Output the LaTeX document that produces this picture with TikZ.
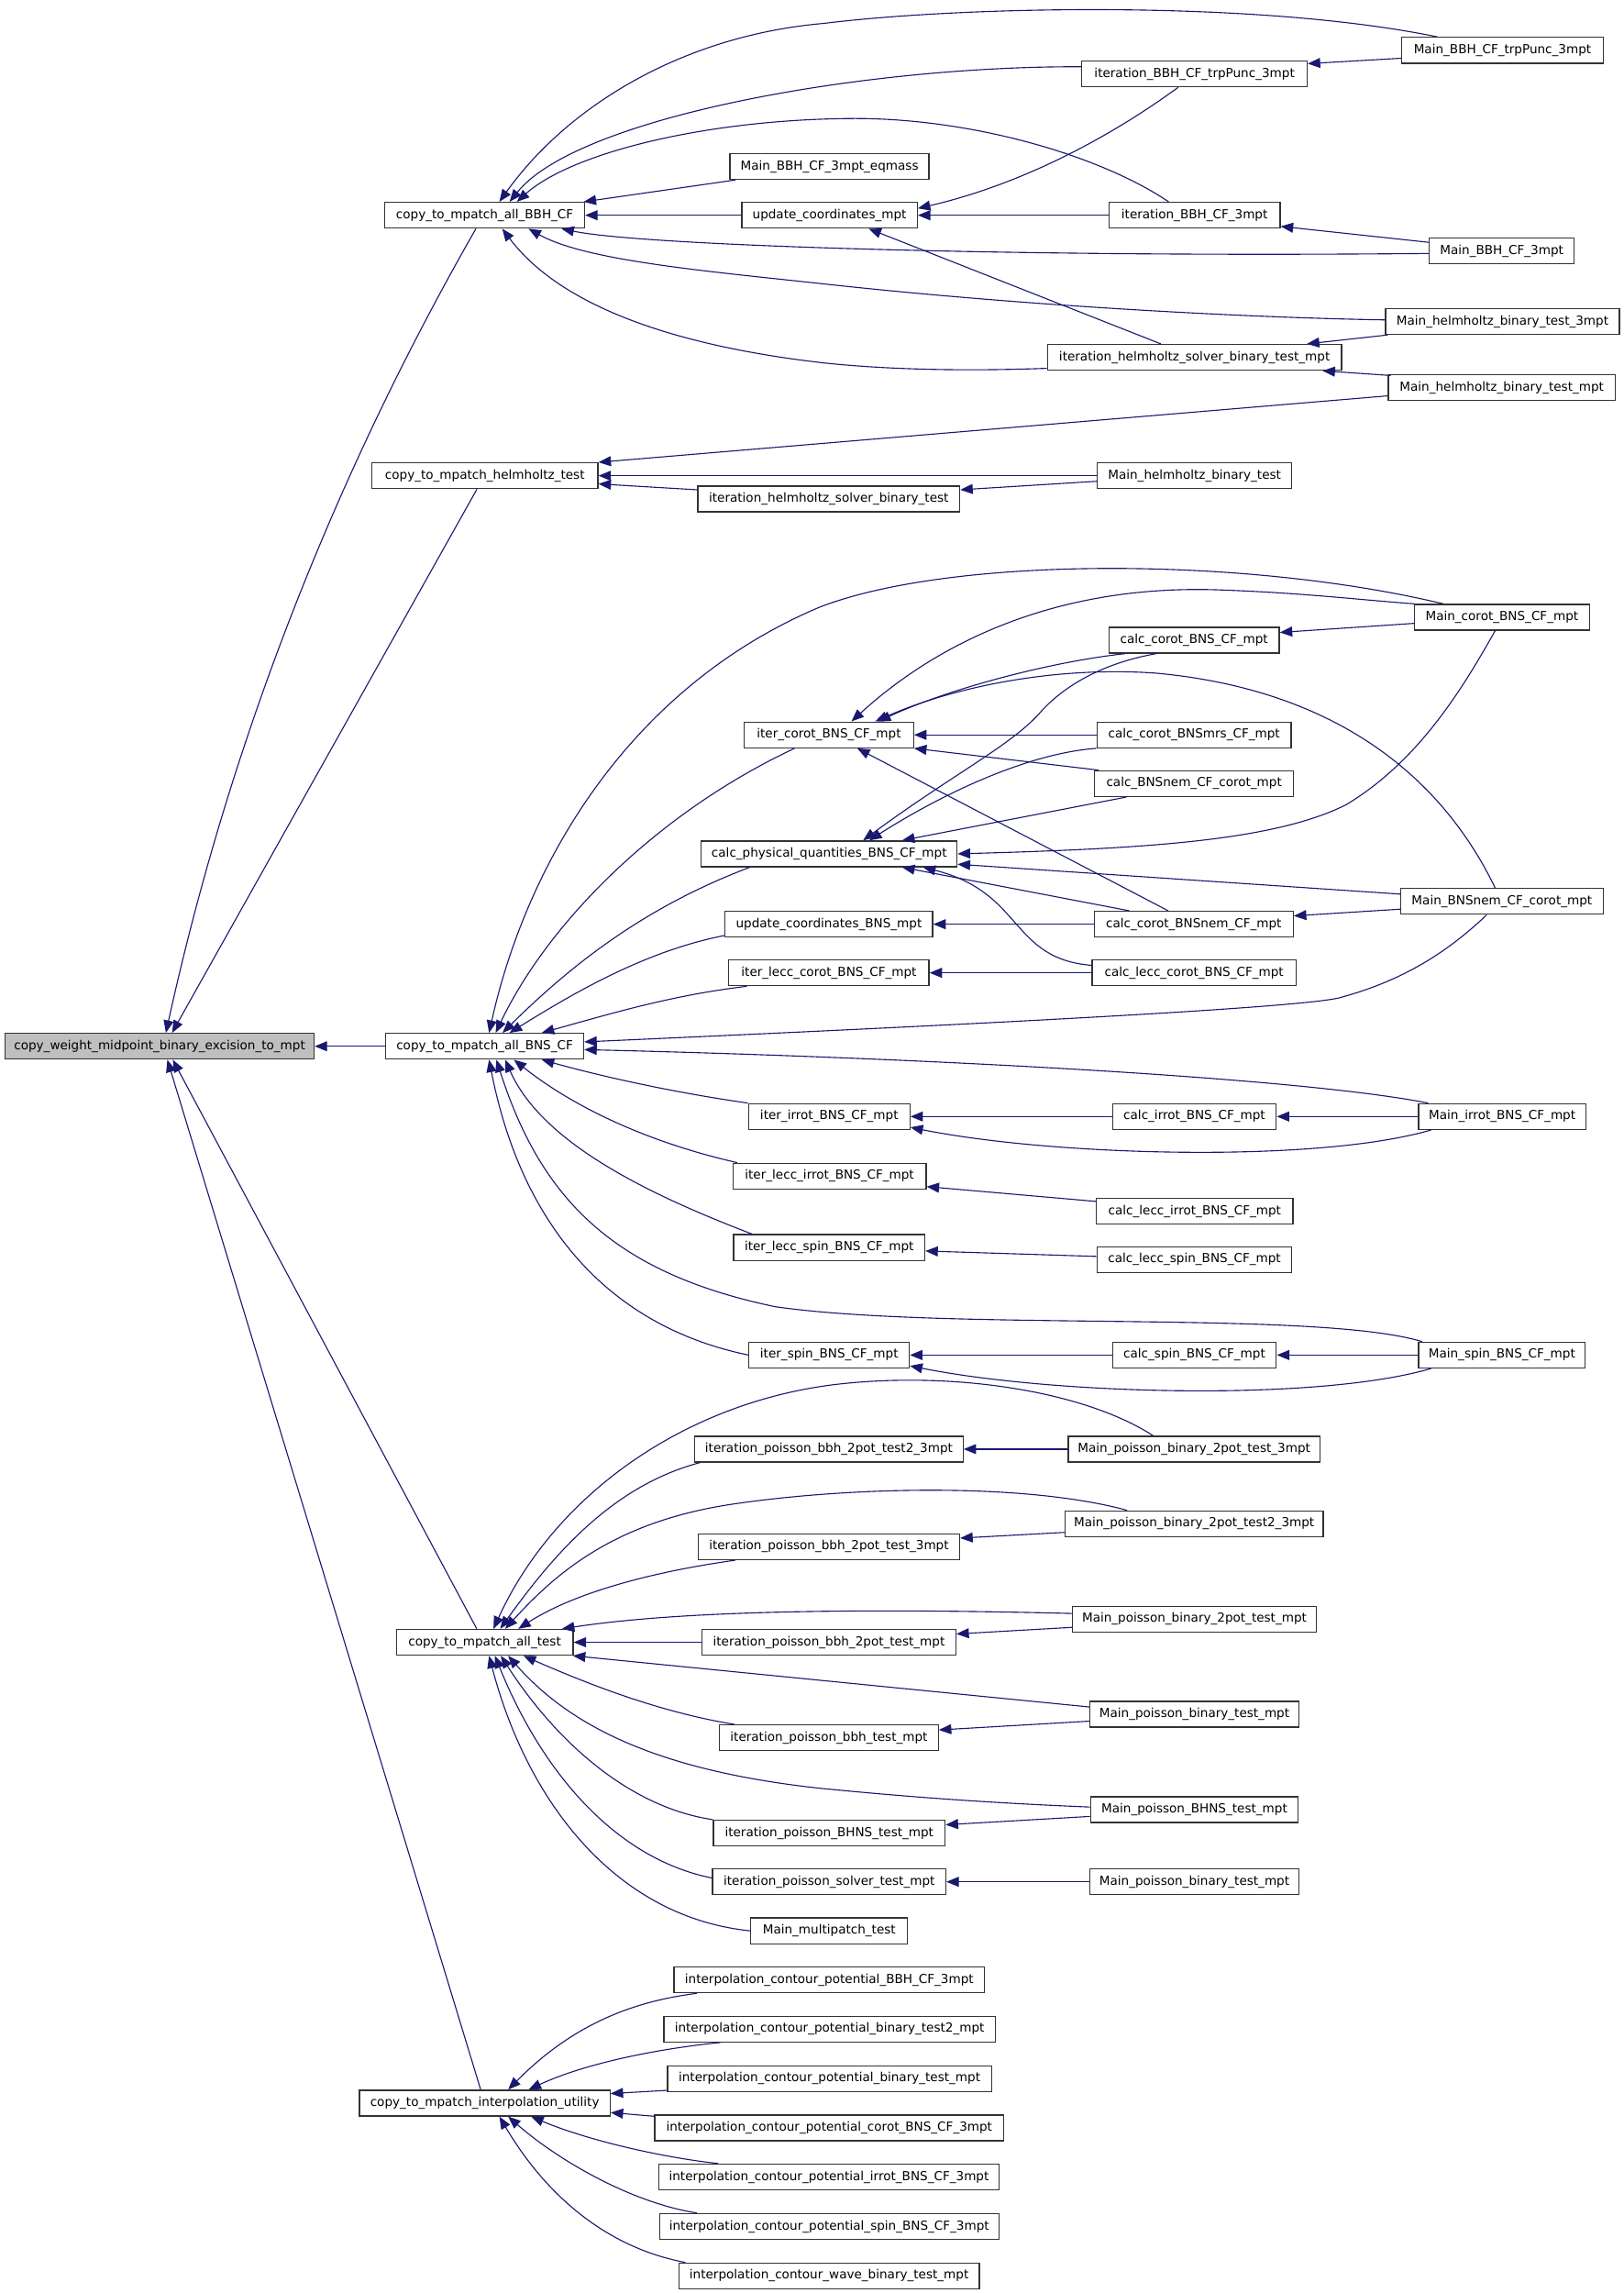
\documentclass[tikz,border=0pt]{standalone}
\usepackage{fontspec}
\setmainfont{DejaVu Sans}
\usetikzlibrary{arrows.meta}
\definecolor{edgeblue}{HTML}{191970}
\definecolor{rootgray}{HTML}{BFBFBF}
\begin{document}
\begin{tikzpicture}[x=1pt,y=-1pt,
  box/.style={draw=black!80, line width=0.8pt, fill=white, inner sep=0pt,
    minimum height=17.6pt, font=\fontsize{8.5}{10}\selectfont,
    text height=6.3pt, text depth=1.8pt},
  edge/.style={draw=edgeblue, line width=0.7pt, {Triangle[length=8.5pt,width=6.8pt]}-}]
\useasboundingbox (0,0) rectangle (1110,1567);
\fill[white] (0,0) rectangle (1110,1567);

% ---------- level 0 / 1 ----------
\node[box, fill=rootgray, minimum width=211.2pt] (root) at (109.1,715) {copy\_weight\_midpoint\_binary\_excision\_to\_mpt};
\node[box, minimum width=136.5pt] (bbh) at (331.3,147.1) {copy\_to\_mpatch\_all\_BBH\_CF};
\node[box, minimum width=154.6pt] (helm) at (331.4,325.1) {copy\_to\_mpatch\_helmholtz\_test};
\node[box, minimum width=135.4pt] (bns) at (331.3,715) {copy\_to\_mpatch\_all\_BNS\_CF};
\node[box, minimum width=120.8pt] (alltest) at (331.3,1122.3) {copy\_to\_mpatch\_all\_test};
\node[box, minimum width=171.3pt] (interp) at (331.35,1437.2) {copy\_to\_mpatch\_interpolation\_utility};

% ---------- BBH ----------
\node[box, minimum width=136pt] (eqmass) at (567,113.8) {Main\_BBH\_CF\_3mpt\_eqmass};
\node[box, minimum width=120pt] (upd) at (567,147.1) {update\_coordinates\_mpt};
\node[box, minimum width=154pt] (trp) at (816.5,50.5) {iteration\_BBH\_CF\_trpPunc\_3mpt};
\node[box, minimum width=117pt] (itthree) at (816.5,147.1) {iteration\_BBH\_CF\_3mpt};
\node[box, minimum width=201pt] (ithelmmpt) at (816.5,244.2) {iteration\_helmholtz\_solver\_binary\_test\_mpt};
\node[box, minimum width=179pt] (ithelm) at (566.5,341) {iteration\_helmholtz\_solver\_binary\_test};
\node[box, minimum width=133pt] (mainhelm) at (816.5,325.1) {Main\_helmholtz\_binary\_test};
\node[box, minimum width=138pt] (maintrp) at (1027,34.4) {Main\_BBH\_CF\_trpPunc\_3mpt};
\node[box, minimum width=99pt] (mainthree) at (1026.5,171.4) {Main\_BBH\_CF\_3mpt};
\node[box, minimum width=160pt] (mainhelmthree) at (1027,219.7) {Main\_helmholtz\_binary\_test\_3mpt};
\node[box, minimum width=155pt] (mainhelmmpt) at (1026.5,264.8) {Main\_helmholtz\_binary\_test\_mpt};

% ---------- BNS ----------
\node[box, minimum width=115.6pt] (itercorot) at (566.6,502.2) {iter\_corot\_BNS\_CF\_mpt};
\node[box, minimum width=116.4pt] (calccorot) at (816.2,437.5) {calc\_corot\_BNS\_CF\_mpt};
\node[box, minimum width=119.6pt] (maincorot) at (1026.6,421.8) {Main\_corot\_BNS\_CF\_mpt};
\node[box, minimum width=132.8pt] (calcmrs) at (816.2,502.2) {calc\_corot\_BNSmrs\_CF\_mpt};
\node[box, minimum width=136pt] (calcnem) at (816.2,535.5) {calc\_BNSnem\_CF\_corot\_mpt};
\node[box, minimum width=174.8pt] (calcphys) at (566.8,583.5) {calc\_physical\_quantities\_BNS\_CF\_mpt};
\node[box, minimum width=138.4pt] (mainnem) at (1026.6,616) {Main\_BNSnem\_CF\_corot\_mpt};
\node[box, minimum width=141.8pt] (updbns) at (566.6,631.6) {update\_coordinates\_BNS\_mpt};
\node[box, minimum width=136pt] (calccorotnem) at (816,631.6) {calc\_corot\_BNSnem\_CF\_mpt};
\node[box, minimum width=136.8pt] (iterlecccorot) at (566.6,664.8) {iter\_lecc\_corot\_BNS\_CF\_mpt};
\node[box, minimum width=139.3pt] (calclecccorot) at (816.2,664.8) {calc\_lecc\_corot\_BNS\_CF\_mpt};
\node[box, minimum width=110.3pt] (iterirrot) at (566.8,763) {iter\_irrot\_BNS\_CF\_mpt};
\node[box, minimum width=111.9pt] (calcirrot) at (816.4,763) {calc\_irrot\_BNS\_CF\_mpt};
\node[box, minimum width=114.4pt] (mainirrot) at (1026.8,763) {Main\_irrot\_BNS\_CF\_mpt};
\node[box, minimum width=132pt] (iterleccirrot) at (567,803.7) {iter\_lecc\_irrot\_BNS\_CF\_mpt};
\node[box, minimum width=134.4pt] (calcleccirrot) at (816.6,827.8) {calc\_lecc\_irrot\_BNS\_CF\_mpt};
\node[box, minimum width=130.7pt] (iterleccspin) at (566.8,852.5) {iter\_lecc\_spin\_BNS\_CF\_mpt};
\node[box, minimum width=133.2pt] (calcleccspin) at (816.4,860.8) {calc\_lecc\_spin\_BNS\_CF\_mpt};
\node[box, minimum width=109.6pt] (iterspin) at (566.8,926) {iter\_spin\_BNS\_CF\_mpt};
\node[box, minimum width=112pt] (calcspin) at (816.4,926) {calc\_spin\_BNS\_CF\_mpt};
\node[box, minimum width=114pt] (mainspin) at (1026.6,926) {Main\_spin\_BNS\_CF\_mpt};

% ---------- all test ----------
\node[box, minimum width=183.4pt] (itpA) at (566.6,990.3) {iteration\_poisson\_bbh\_2pot\_test2\_3mpt};
\node[box, minimum width=172pt] (mpA) at (816.2,990.3) {Main\_poisson\_binary\_2pot\_test\_3mpt};
\node[box, minimum width=176.5pt] (mpB) at (816.2,1041.3) {Main\_poisson\_binary\_2pot\_test2\_3mpt};
\node[box, minimum width=178.7pt] (itpB) at (566.6,1057) {iteration\_poisson\_bbh\_2pot\_test\_3mpt};
\node[box, minimum width=166.8pt] (mpC) at (816.4,1106.5) {Main\_poisson\_binary\_2pot\_test\_mpt};
\node[box, minimum width=173.5pt] (itpC) at (566.6,1122.3) {iteration\_poisson\_bbh\_2pot\_test\_mpt};
\node[box, minimum width=142.8pt] (mpD) at (816.4,1171.5) {Main\_poisson\_binary\_test\_mpt};
\node[box, minimum width=149.5pt] (itpD) at (566.6,1187.6) {iteration\_poisson\_bbh\_test\_mpt};
\node[box, minimum width=141.9pt] (mpE) at (816.4,1236.6) {Main\_poisson\_BHNS\_test\_mpt};
\node[box, minimum width=158.4pt] (itpE) at (566.8,1252.7) {iteration\_poisson\_BHNS\_test\_mpt};
\node[box, minimum width=159.4pt] (itpF) at (566.8,1286) {iteration\_poisson\_solver\_test\_mpt};
\node[box, minimum width=142.8pt] (mpF) at (816.4,1286) {Main\_poisson\_binary\_test\_mpt};
\node[box, minimum width=107.1pt] (multi) at (566.8,1319.5) {Main\_multipatch\_test};

% ---------- interpolation ----------
\node[box, minimum width=212.2pt] (icA) at (566.8,1353) {interpolation\_contour\_potential\_BBH\_CF\_3mpt};
\node[box, minimum width=226.5pt] (icB) at (567,1386.6) {interpolation\_contour\_potential\_binary\_test2\_mpt};
\node[box, minimum width=221.4pt] (icC) at (567,1420.5) {interpolation\_contour\_potential\_binary\_test\_mpt};
\node[box, minimum width=238.4pt] (icD) at (566.8,1454.2) {interpolation\_contour\_potential\_corot\_BNS\_CF\_3mpt};
\node[box, minimum width=232.9pt] (icE) at (566.6,1487.7) {interpolation\_contour\_potential\_irrot\_BNS\_CF\_3mpt};
\node[box, minimum width=232pt] (icF) at (566.8,1521.5) {interpolation\_contour\_potential\_spin\_BNS\_CF\_3mpt};
\node[box, minimum width=205.4pt] (icG) at (566.7,1555.3) {interpolation\_contour\_wave\_binary\_test\_mpt};

% ========== edges: root ==========
\draw[edge] ([xshift=4.3pt]root.north) .. controls (156,512) and (226.7,328.5) .. ([xshift=-6pt]bbh.south);
\draw[edge] ([xshift=8.5pt]root.north) -- ([xshift=-5.4pt]helm.south);
\draw[edge] (root.east) -- (bns.west);
\draw[edge] ([xshift=9pt]root.south) -- ([xshift=-5.4pt]alltest.north);
\draw[edge] ([xshift=5.3pt]root.south) -- ([xshift=-2.8pt]interp.north);

% ========== edges: BBH ==========
\draw[edge] ([xshift=10pt]bbh.north) .. controls (390,70) and (470,24) .. (563,16) .. controls (660,4) and (860,0) .. ([xshift=-44.5pt]maintrp.north);
\draw[edge] ([xshift=17pt]bbh.north) .. controls (395,80) and (590,45) .. ([yshift=4.9pt]trp.west);
\draw[edge] ([xshift=22pt]bbh.north) .. controls (390,105) and (480,82) .. (580,81) .. controls (660,80) and (750,105) .. ([xshift=-17.7pt]itthree.north);
\draw[edge] ([xshift=-1pt]bbh.north east) -- ([xshift=4pt]eqmass.south west);
\draw[edge] (bbh.east) -- (upd.west);
\draw[edge] ([xshift=52.5pt]bbh.south) .. controls (440,168) and (700,176) .. ([yshift=-1.8pt]mainthree.west);
\draw[edge] ([xshift=30pt]bbh.south) .. controls (400,178) and (480,185) .. (563,194) .. controls (700,209) and (850,217) .. ([yshift=1.1pt]mainhelmthree.west);
\draw[edge] ([xshift=12pt]bbh.south) .. controls (380,205) and (450,235) .. (563,248) .. controls (620,254) and (680,253) .. ([yshift=-7.5pt]ithelmmpt.west);
\draw[edge] ([yshift=4.7pt]upd.east) .. controls (690,128) and (750,100) .. ([xshift=-11.2pt]trp.south);
\draw[edge] (upd.east) -- (itthree.west);
\draw[edge] ([xshift=26.8pt]upd.south) -- ([xshift=-23pt]ithelmmpt.north);
\draw[edge] ([yshift=7pt]trp.east) -- ([yshift=-5.4pt]maintrp.west);
\draw[edge] ([yshift=-7.6pt]itthree.east) -- ([yshift=5.8pt]mainthree.west);
\draw[edge] ([xshift=76.8pt]ithelmmpt.north) -- ([xshift=2pt]mainhelmthree.south west);
\draw[edge] ([xshift=87.5pt]ithelmmpt.south) -- ([xshift=2pt,yshift=-1pt]mainhelmmpt.north west);
\draw[edge] (helm.north east) -- ([yshift=-5.7pt]mainhelmmpt.west);
\draw[edge] (helm.east) -- (mainhelm.west);
\draw[edge] ([yshift=-5.6pt]helm.east) -- ([yshift=6.3pt]ithelm.west);
\draw[edge] ([yshift=6.3pt]ithelm.east) -- ([yshift=-3.8pt]mainhelm.west);

% ========== edges: BNS ==========
\draw[edge] ([xshift=3pt]bns.north) .. controls (360,590) and (430,470) .. (560,415) .. controls (650,380) and (850,380) .. ([xshift=-40.2pt]maincorot.north);
\draw[edge] ([xshift=7.5pt]bns.north) .. controls (375,630) and (450,555) .. ([xshift=-23.5pt]itercorot.south);
\draw[edge] ([xshift=12.2pt]bns.north) .. controls (390,660) and (440,620) .. ([xshift=-54.3pt]calcphys.south);
\draw[edge] ([xshift=17pt]bns.north) .. controls (390,680) and (440,650) .. ([yshift=-7.7pt]updbns.west);
\draw[edge] ([xshift=39pt]bns.north) .. controls (420,692) and (460,680) .. ([xshift=-56pt]iterlecccorot.south);
\draw[edge] ([yshift=3pt]bns.east) .. controls (600,703) and (880,690) .. (915,682) .. controls (960,670) and (990,650) .. ([xshift=-10.4pt]mainnem.south);
\draw[edge] ([yshift=-2.3pt]bns.east) .. controls (600,722) and (880,735) .. ([xshift=-50.6pt]mainirrot.north);
\draw[edge] ([xshift=39pt]bns.south) .. controls (420,738) and (470,748) .. (iterirrot.north west);
\draw[edge] ([xshift=20pt]bns.south) .. controls (390,755) and (440,780) .. ([xshift=3.3pt]iterleccirrot.north west);
\draw[edge] ([xshift=14pt]bns.south) .. controls (370,780) and (440,815) .. ([xshift=13pt]iterleccspin.north west);
\draw[edge] ([xshift=8pt]bns.south) .. controls (370,820) and (420,870) .. (530,893) .. controls (650,910) and (900,895) .. ([xshift=-54.6pt]mainspin.north);
\draw[edge] ([xshift=3pt]bns.south) .. controls (355,830) and (410,905) .. (iterspin.west);

\draw[edge] ([xshift=15.4pt]itercorot.north) .. controls (640,440) and (720,400) .. (830,403) .. controls (890,405) and (930,410) .. (maincorot.north west);
\draw[edge] ([xshift=31.7pt]itercorot.north) .. controls (650,470) and (720,455) .. (790,460) .. controls (900,470) and (980,520) .. ([xshift=-4.6pt]mainnem.north);
\draw[edge] ([xshift=33.7pt]itercorot.north) .. controls (650,470) and (720,452) .. ([xshift=-47.2pt]calccorot.south);
\draw[edge] (itercorot.east) -- (calcmrs.west);
\draw[edge] (itercorot.south east) -- ([xshift=3.3pt]calcnem.north west);
\draw[edge] ([xshift=19.4pt]itercorot.south) -- ([xshift=-17.5pt]calccorotnem.north);
\draw[edge] ([yshift=5.3pt]calccorot.east) -- ([yshift=-4.2pt]maincorot.west);
\draw[edge] ([xshift=23.2pt]calcphys.north) .. controls (650,530) and (690,510) .. (710,488) .. controls (730,465) and (760,452) .. ([xshift=-25.9pt]calccorot.south);
\draw[edge] ([xshift=27.4pt]calcphys.north) .. controls (640,545) and (700,515) .. (calcmrs.south west);
\draw[edge] ([xshift=49.9pt]calcphys.north) -- ([xshift=-46.3pt]calcnem.south);
\draw[edge] (calcphys.east) .. controls (780,580) and (870,575) .. (920,550) .. controls (970,520) and (1000,470) .. ([xshift=-4.6pt]maincorot.south);
\draw[edge] ([yshift=-7.1pt]calcphys.east) -- ([yshift=5pt]mainnem.west);
\draw[edge] ([xshift=49.9pt]calcphys.south) -- ([xshift=-44.1pt]calccorotnem.north);
\draw[edge] ([xshift=64.2pt]calcphys.south) .. controls (700,610) and (690,655) .. ([yshift=5.1pt]calclecccorot.west);
\draw[edge] (updbns.east) -- (calccorotnem.west);
\draw[edge] ([yshift=5.7pt]calccorotnem.east) -- ([yshift=-5.3pt]mainnem.west);
\draw[edge] (iterlecccorot.east) -- (calclecccorot.west);
\draw[edge] (iterirrot.east) -- (calcirrot.west);
\draw[edge] (calcirrot.east) -- (mainirrot.west);
\draw[edge] ([yshift=-7.4pt]iterirrot.east) .. controls (720,790) and (900,795) .. ([xshift=-48.6pt]mainirrot.south);
\draw[edge] ([yshift=-7.2pt]iterleccirrot.east) -- ([yshift=6.8pt]calcleccirrot.west);
\draw[edge] ([yshift=-2.4pt]iterleccspin.east) -- ([yshift=2.2pt]calcleccspin.west);
\draw[edge] (iterspin.east) -- (calcspin.west);
\draw[edge] (calcspin.east) -- (mainspin.west);
\draw[edge] ([yshift=-7.4pt]iterspin.east) .. controls (720,953) and (900,958) .. ([xshift=-48.4pt]mainspin.south);

% ========== edges: all test ==========
\draw[edge] ([xshift=6pt]alltest.north) .. controls (380,1020) and (470,958) .. (572,946) .. controls (650,937) and (740,950) .. ([xshift=-28pt]mpA.north);
\draw[edge] ([xshift=10.6pt]alltest.north) .. controls (380,1060) and (420,1015) .. ([xshift=4pt]itpA.south west);
\draw[edge] ([xshift=14pt]alltest.north) .. controls (380,1075) and (420,1040) .. (500,1028) .. controls (580,1016) and (700,1013) .. ([xshift=-45.8pt]mpB.north);
\draw[edge] ([xshift=23pt]alltest.north) .. controls (390,1090) and (440,1075) .. ([xshift=-64pt]itpB.south);
\draw[edge] ([xshift=-8pt]alltest.north east) .. controls (450,1103) and (550,1098) .. ([yshift=3.9pt]mpC.west);
\draw[edge] (alltest.east) -- (itpC.west);
\draw[edge] ([xshift=-0.5pt]alltest.south east) -- ([yshift=5pt]mpD.west);
\draw[edge] ([xshift=26.5pt]alltest.south) .. controls (400,1150) and (450,1170) .. ([xshift=10.7pt]itpD.north west);
\draw[edge] ([xshift=16pt]alltest.south) .. controls (390,1180) and (450,1210) .. (560,1222) .. controls (640,1230) and (700,1233) .. ([yshift=1.7pt]mpE.west);
\draw[edge] ([xshift=11pt]alltest.south) .. controls (380,1190) and (430,1235) .. (itpE.north west);
\draw[edge] ([xshift=7pt]alltest.south) .. controls (370,1210) and (420,1270) .. ([yshift=2.6pt]itpF.west);
\draw[edge] ([xshift=3pt]alltest.south) .. controls (360,1230) and (420,1310) .. (multi.west);
\draw[edge] (itpA.east) -- (mpA.west);
\draw[edge] ([yshift=5.9pt]itpB.east) -- ([yshift=-5.9pt]mpB.west);
\draw[edge] ([yshift=5.7pt]itpC.east) -- ([yshift=-5.6pt]mpC.west);
\draw[edge] ([yshift=5.4pt]itpD.east) -- ([yshift=-4.7pt]mpD.west);
\draw[edge] ([yshift=5.7pt]itpE.east) -- ([yshift=-4.7pt]mpE.west);
\draw[edge] (itpF.east) -- (mpF.west);

% ========== edges: interpolation ==========
\draw[edge] ([xshift=16pt]interp.north) .. controls (390,1385) and (430,1368) .. ([xshift=-90.4pt]icA.south);
\draw[edge] ([xshift=30pt]interp.north) .. controls (400,1410) and (450,1400) .. ([xshift=-74.6pt]icB.south);
\draw[edge] ([yshift=6.5pt]interp.east) -- ([yshift=-8pt]icC.west);
\draw[edge] ([yshift=-6.5pt]interp.east) -- ([yshift=8pt]icD.west);
\draw[edge] ([xshift=31.7pt]interp.south) .. controls (400,1462) and (450,1474) .. ([xshift=-75.8pt]icE.north);
\draw[edge] ([xshift=16pt]interp.south) .. controls (380,1475) and (430,1505) .. ([xshift=-90.4pt]icF.north);
\draw[edge] ([xshift=10pt]interp.south) .. controls (370,1495) and (410,1535) .. ([xshift=-98.3pt]icG.north);
\end{tikzpicture}
\end{document}
